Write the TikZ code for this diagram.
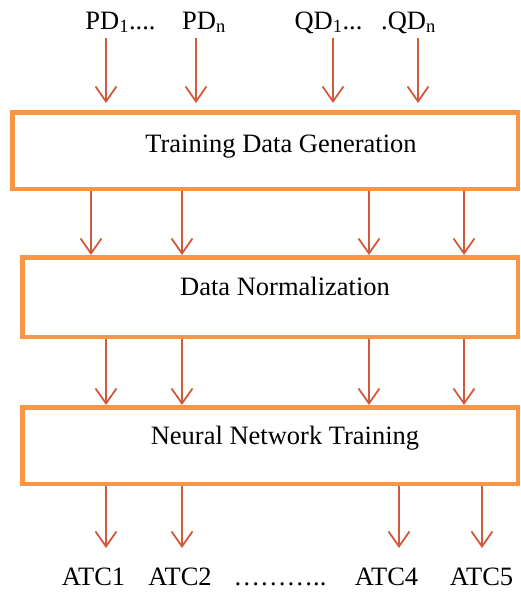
\documentclass[tikz,border=0pt]{standalone}
\usepackage{fontspec}
\setmainfont{Liberation Serif}
\usetikzlibrary{arrows.meta}
\definecolor{boxorange}{HTML}{F79646}
\definecolor{flowred}{HTML}{D05A3C}

\begin{document}
\begin{tikzpicture}[x=1pt,y=-1pt,
		stage/.style={rectangle,draw=boxorange,line width=4.5pt,inner sep=0pt},
		flow/.style={draw=flowred,line width=1.8pt,-{Straight Barb[length=15pt,width=21pt]}},
		txt/.style={font=\fontsize{26.5}{30}\selectfont,anchor=base,inner sep=0pt}]
		\useasboundingbox (0,0) rectangle (520,592);
		% stages
		\node[stage,minimum width=505.5pt,minimum height=76.5pt](tdg) at (265,150.5){};
		\node[stage,minimum width=495.5pt,minimum height=79.5pt](dn) at (270,297){};
		\node[stage,minimum width=495.5pt,minimum height=76.5pt](nnt) at (270,445.5){};
		\node[txt](tdgtext) at (281,152){Training Data Generation};
		\node[txt](dntext) at (285,295){Data Normalization};
		\node[txt](nnttext) at (285,444){Neural Network Training};
		% inputs
		\node[txt](pd1) at (120.5,29){PD\textsubscript{1}....};
		\node[txt](pdn) at (204,29){PD\textsubscript{n}};
		\node[txt](qd1) at (328.5,29){QD\textsubscript{1}...};
		\node[txt](qdn) at (408.5,29){.QD\textsubscript{n}};
		% outputs
		\node[txt](atc1) at (93.5,585){ATC1};
		\node[txt](atc2) at (180,585){ATC2};
		\node[txt](dots) at (280,585){………..};
		\node[txt](atc4) at (386.5,585){ATC4};
		\node[txt](atc5) at (481.5,585){ATC5};
		% arrow columns
		\coordinate (p1) at (106,38);
		\coordinate (p2) at (196,38);
		\coordinate (p3) at (333,38);
		\coordinate (p4) at (418,38);
		\coordinate (c1) at (91,0);
		\coordinate (c2) at (182,0);
		\coordinate (c3) at (369,0);
		\coordinate (c4) at (464,0);
		\coordinate (d1) at (106,0);
		\coordinate (a1) at (106,548);
		\coordinate (a2) at (182,548);
		\coordinate (a3) at (399,548);
		\coordinate (a4) at (482,548);
		\draw[flow,shorten >=7pt] (p1) -- (p1 |- tdg.north);
		\draw[flow,shorten >=7pt] (p2) -- (p2 |- tdg.north);
		\draw[flow,shorten >=7pt] (p3) -- (p3 |- tdg.north);
		\draw[flow,shorten >=7pt] (p4) -- (p4 |- tdg.north);
		\draw[flow] (tdg.south -| c1) -- (dn.north -| c1);
		\draw[flow] (tdg.south -| c2) -- (dn.north -| c2);
		\draw[flow] (tdg.south -| c3) -- (dn.north -| c3);
		\draw[flow] (tdg.south -| c4) -- (dn.north -| c4);
		\draw[flow] (dn.south -| d1) -- (nnt.north -| d1);
		\draw[flow] (dn.south -| c2) -- (nnt.north -| c2);
		\draw[flow] (dn.south -| c3) -- (nnt.north -| c3);
		\draw[flow] (dn.south -| c4) -- (nnt.north -| c4);
		\draw[flow] (nnt.south -| a1) -- (a1);
		\draw[flow] (nnt.south -| a2) -- (a2);
		\draw[flow] (nnt.south -| a3) -- (a3);
		\draw[flow] (nnt.south -| a4) -- (a4);
	\end{tikzpicture}
\end{document}
